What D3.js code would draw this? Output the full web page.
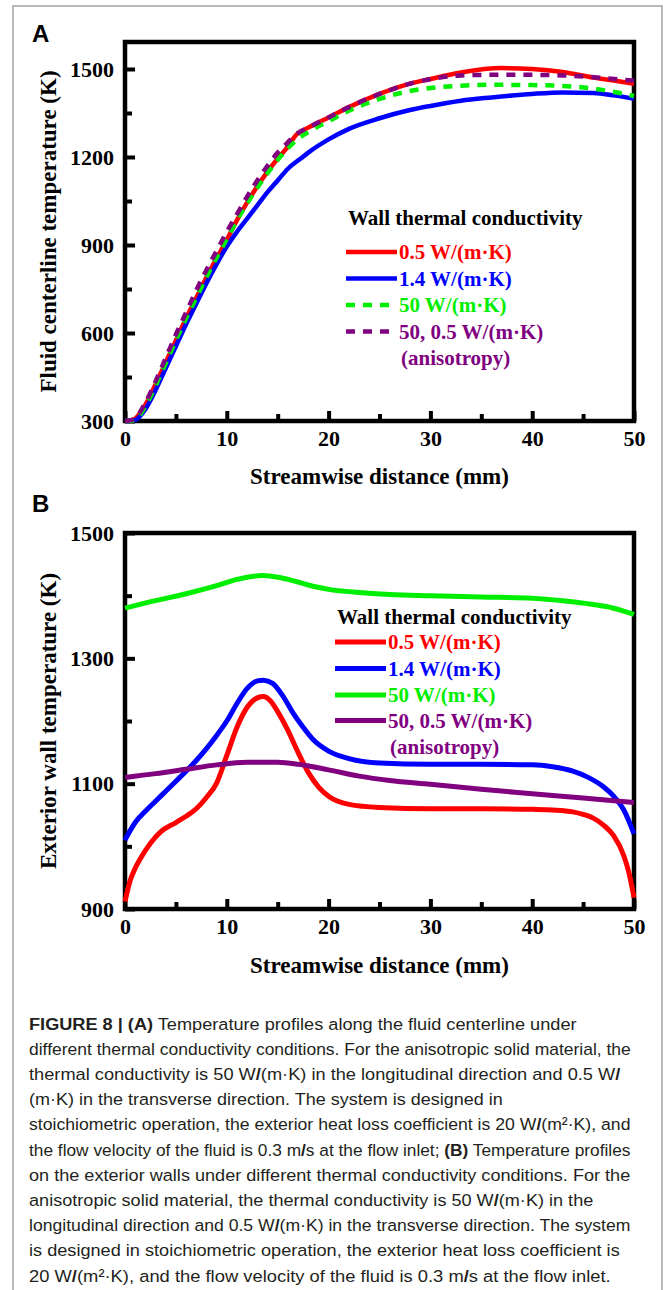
<!DOCTYPE html>
<html><head><meta charset="utf-8">
<script src="https://cdn.jsdelivr.net/npm/d3@7"></script>
<style>
html,body{margin:0;padding:0;background:#fff;}
svg{display:block;}
</style></head>
<body>
<svg id="fig" width="665" height="1290"></svg>
<script>
// ---------------- DATA ----------------
const seriesNames = ["0.5 W/(m·K)", "1.4 W/(m·K)", "50 W/(m·K)", "50, 0.5 W/(m·K)"];
const seriesExtra = "(anisotropy)";
const seriesColors = ["#ff0000", "#0000ff", "#00ee00", "#800080"];
const legendTitle = "Wall thermal conductivity";

const xTicksMajor = [0, 10, 20, 30, 40, 50];
const xTicksMinor = [5, 15, 25, 35, 45];
const yTicksMajorA = [300, 600, 900, 1200, 1500];
const yTicksMinorA = [450, 750, 1050, 1350];
const yTicksMajorB = [900, 1100, 1300, 1500];
const yTicksMinorB = [1000, 1200, 1400];

// Panel A: fluid centerline temperature (K) vs streamwise distance (mm)
const fluidK05 = [[0,300],[0.5,302],[1,308],[2,355],[3,425],[4,500],[5,575],[6,650],[7,720],[8,790],[9,855],[10,918],[11,985],[12,1045],[13,1100],[14,1150],[15,1195],[16,1235],[16.8,1275],[18,1300],[20,1335],[22,1370],[25,1415],[28,1450],[30,1466],[33,1488],[37,1503],[40,1500],[43,1490],[46,1471],[48,1461],[50,1450]];
const fluidK14 = [[0,300],[0.5,301],[1,303],[2,340],[3,405],[4,480],[5,555],[6,630],[7,700],[8,770],[9,835],[10,895],[11,945],[12,990],[13,1035],[14,1080],[15,1120],[16,1160],[17.3,1196],[18,1215],[20,1260],[22,1296],[25,1332],[28,1360],[30,1374],[33,1392],[36,1403],[40,1415],[43,1420],[46,1418],[48,1410],[50,1398]];
const fluidK50 = [[0,300],[0.5,301],[1,305],[2,350],[3,420],[4,497],[5,575],[6,650],[7,720],[8,790],[9,857],[10,920],[11,985],[12,1042],[13,1095],[14,1145],[15,1190],[16,1230],[17,1262],[18,1285],[20,1322],[22,1358],[25,1398],[28,1425],[30,1435],[33,1443],[36,1446],[40,1445],[44,1440],[47,1428],[50,1408]];
const fluidAniso = [[0,300],[0.5,302],[1,310],[2,362],[3,435],[4,515],[5,595],[6,670],[7,745],[8,815],[9,880],[10,945],[11,1005],[12,1065],[13,1120],[14,1170],[15,1215],[16,1250],[16.6,1272],[18,1300],[20,1335],[22,1370],[25,1415],[28,1450],[30,1465],[33,1478],[36,1480],[40,1480],[43,1478],[46,1472],[50,1460]];

// Panel B: exterior wall temperature (K) vs streamwise distance (mm)
const wallK05 = [[0,912],[0.5,945],[1,965],[1.5,980],[2.5,1005],[3.5,1023],[5,1038],[6,1048],[7,1060],[8,1078],[9,1101],[10,1145],[11,1190],[12,1222],[13,1237],[13.6,1239],[14.3,1232],[15,1215],[16,1185],[17,1150],[18,1118],[19,1095],[20,1080],[22,1067],[25,1062],[30,1060],[35,1060],[40,1059],[42,1058],[44,1055],[45,1051],[46,1045],[47,1034],[48,1017],[49,985],[49.5,958],[50,918]];
const wallK14 = [[0,1010],[1,1038],[2,1056],[3,1072],[4,1088],[5,1104],[6,1120],[7,1137],[8,1156],[9,1177],[10,1200],[11,1228],[12,1252],[13,1264],[13.6,1265],[14.5,1260],[15.5,1240],[16.5,1213],[17.5,1190],[18.5,1170],[20,1152],[22,1140],[25,1133],[30,1131],[35,1131],[40,1130],[42,1127],[44,1120],[45.5,1110],[47,1095],[48,1080],[49,1058],[50,1020]];
const wallK50 = [[0,1380],[3,1392],[6,1403],[9,1416],[11,1426],[13.5,1432],[16,1426],[18,1417],[20,1410],[23,1405],[26,1402],[30,1400],[35,1398],[40,1396],[43,1392],[46,1386],[48,1380],[50,1370]];
const wallAniso = [[0,1110],[3,1116],[6,1123],[9,1130],[12,1134],[15,1134],[17,1131],[20,1122],[23,1112],[26,1105],[30,1099],[35,1091],[40,1084],[45,1077],[50,1070]];

const captionLines = [
  [["FIGURE 8 | (A)",1],[" Temperature profiles along the fluid centerline under",0]],
  [["different thermal conductivity conditions. For the anisotropic solid material, the",0]],
  [["thermal conductivity is 50 W/(m·K) in the longitudinal direction and 0.5 W/",0]],
  [["(m·K) in the transverse direction. The system is designed in",0]],
  [["stoichiometric operation, the exterior heat loss coefficient is 20 W/(m²·K), and",0]],
  [["the flow velocity of the fluid is 0.3 m/s at the flow inlet; ",0],["(B)",1],[" Temperature profiles",0]],
  [["on the exterior walls under different thermal conductivity conditions. For the",0]],
  [["anisotropic solid material, the thermal conductivity is 50 W/(m·K) in the",0]],
  [["longitudinal direction and 0.5 W/(m·K) in the transverse direction. The system",0]],
  [["is designed in stoichiometric operation, the exterior heat loss coefficient is",0]],
  [["20 W/(m²·K), and the flow velocity of the fluid is 0.3 m/s at the flow inlet.",0]]
];
const captionRight = [577, 631, 621, 503, 631, 631, 631, 594, 631, 620, 611];

// ---------------- DRAW ----------------
const svg = d3.select("#fig");
const SERIF = "'Liberation Serif','Times New Roman',serif";
const SANS = "'Liberation Sans',Arial,sans-serif";

// outer grey frame
svg.append("rect").attr("x",13).attr("y",6).attr("width",649).attr("height",1300)
  .attr("fill","none").attr("stroke","#a8a8a8").attr("stroke-width",1.6);

function panel(opt){
  const g = svg.append("g");
  const x = d3.scaleLinear().domain([0,50]).range([125,634]);
  const y = d3.scaleLinear().domain(opt.yDomain).range(opt.yRange);
  const y0 = opt.yRange[0], y1 = opt.yRange[1];

  // ticks (inward)
  const ax = g.append("g").attr("transform",`translate(0,${y0})`)
    .call(d3.axisBottom(x).tickValues(xTicksMajor).tickSize(-10).tickPadding(9).tickFormat(d3.format("d")));
  const axm = g.append("g").attr("transform",`translate(0,${y0})`)
    .call(d3.axisBottom(x).tickValues(xTicksMinor).tickSize(-7).tickFormat(""));
  const ay = g.append("g").attr("transform",`translate(${x(0)},0)`)
    .call(d3.axisLeft(y).tickValues(opt.yMajor).tickSize(-10).tickPadding(11).tickFormat(d3.format("d")));
  const aym = g.append("g").attr("transform",`translate(${x(0)},0)`)
    .call(d3.axisLeft(y).tickValues(opt.yMinor).tickSize(-7).tickFormat(""));
  [ax,axm,ay,aym].forEach(a=>{
    a.select(".domain").remove();
    a.selectAll("line").attr("stroke","#000").attr("stroke-width",4);
    a.selectAll("text").attr("font-family",SERIF).attr("font-weight","bold").attr("font-size",22).attr("fill","#000");
  });

  // frame
  g.append("rect").attr("x",x(0)).attr("y",y1).attr("width",x(50)-x(0)).attr("height",y0-y1)
    .attr("fill","none").attr("stroke","#000").attr("stroke-width",4.5);

  // curves
  const line = d3.line().x(d=>x(d[0])).y(d=>y(d[1])).curve(d3.curveMonotoneX);
  opt.series.forEach((s,i)=>{
    g.append("path").datum(s).attr("d",line).attr("fill","none")
      .attr("stroke",seriesColors[i]).attr("stroke-width",opt.lw)
      .attr("stroke-dasharray", opt.dashed[i] ? "9,8" : null)
      .attr("stroke-linejoin","round");
  });

  // axis titles
  g.append("text").attr("x",(x(0)+x(50))/2 + opt.xTitleDx).attr("y",opt.xTitleY)
    .attr("text-anchor","middle").attr("font-family",SERIF).attr("font-weight","bold")
    .attr("font-size",23).text("Streamwise distance (mm)");
  g.append("text").attr("transform",`translate(56,${(y0+y1)/2}) rotate(-90)`)
    .attr("text-anchor","middle").attr("font-family",SERIF).attr("font-weight","bold")
    .attr("font-size",23).text(opt.yTitle);

  // panel letter
  g.append("text").attr("x",32).attr("y",opt.letterY).attr("font-family",SANS).attr("font-weight","bold")
    .attr("font-size",24).text(opt.letter);

  // legend
  const L = opt.legend;
  g.append("text").attr("x",L.x).attr("y",L.titleY).attr("font-family",SERIF).attr("font-weight","bold")
    .attr("font-size",21).attr("dominant-baseline","central").text(legendTitle);
  seriesNames.forEach((n,i)=>{
    const yy = L.itemY[i];
    g.append("line").attr("x1",L.x0).attr("x2",L.x1).attr("y1",yy).attr("y2",yy)
      .attr("stroke",seriesColors[i]).attr("stroke-width",opt.lw)
      .attr("stroke-dasharray", opt.dashed[i] ? "9,8" : null);
    g.append("text").attr("x",L.tx).attr("y",yy).attr("dominant-baseline","central")
      .attr("font-family",SERIF).attr("font-weight","bold").attr("font-size",21)
      .attr("fill",seriesColors[i]).text(n);
  });
  g.append("text").attr("x",L.tx+2).attr("y",L.itemY[4]).attr("dominant-baseline","central")
    .attr("font-family",SERIF).attr("font-weight","bold").attr("font-size",21)
    .attr("fill",seriesColors[3]).text(seriesExtra);
}

panel({
  letter:"A", letterY:42,
  yDomain:[300,1592], yRange:[421,42],
  yMajor:yTicksMajorA, yMinor:yTicksMinorA,
  yTitle:"Fluid centerline temperature (K)",
  xTitleY:484, xTitleDx:0,
  series:[fluidK05, fluidK14, fluidK50, fluidAniso],
  dashed:[false,false,true,true], lw:4.5,
  legend:{x:348, titleY:218, itemY:[252,278.5,305,331.5,358], x0:346, x1:397, tx:399}
});

panel({
  letter:"B", letterY:512,
  yDomain:[900,1500], yRange:[909,533],
  yMajor:yTicksMajorB, yMinor:yTicksMinorB,
  yTitle:"Exterior wall temperature (K)",
  xTitleY:973, xTitleDx:0,
  series:[wallK05, wallK14, wallK50, wallAniso],
  dashed:[false,false,false,false], lw:5,
  legend:{x:337, titleY:617, itemY:[642,668.5,695,720.5,747], x0:335, x1:386, tx:388}
});

// caption
const cap = svg.append("g");
captionLines.forEach((segs,i)=>{
  const gl = cap.append("g").attr("transform",`translate(29,${1029.5 + i*25.2})`);
  const t = gl.append("text").attr("x",0).attr("y",0).attr("font-family",SANS)
    .attr("font-size",17).attr("fill","#231f20");
  segs.forEach(([s,b])=>{
    const parts = s.split("/");
    parts.forEach((p,k)=>{
      if(k>0) t.append("tspan").attr("font-weight","bold").text("/");
      if(p.length) t.append("tspan").attr("font-weight", b ? "bold" : "normal").text(p);
    });
  });
  const w = t.node().getComputedTextLength();
  const target = captionRight[i] - 29;
  t.attr("transform",`scale(${target/w},1)`);
});
</script>
</body></html>
